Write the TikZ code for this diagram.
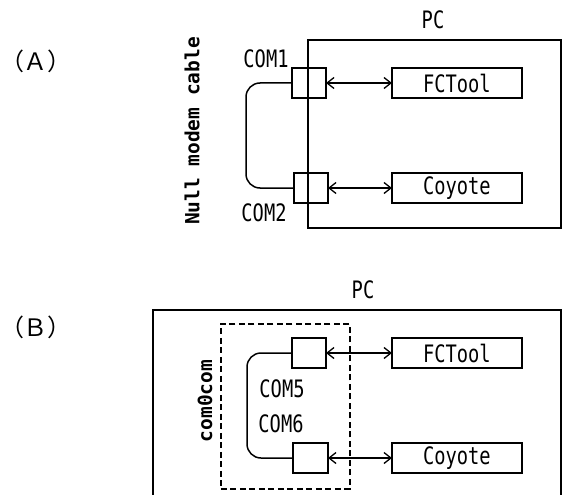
\documentclass[tikz,border=0pt]{standalone}
\usepackage{fontspec}
\usetikzlibrary{arrows.meta}
\newfontfamily\gfont{DejaVu Sans Mono}[FakeStretch=0.78]
\newfontfamily\lblfont{DejaVu Sans Mono}
\newfontfamily\cjk{Noto Sans CJK JP}
\begin{document}
\begin{tikzpicture}[x=1pt,y=-1pt,
  txt/.style={font=\gfont\fontsize{24}{26}\selectfont, inner sep=0pt},
  boldlbl/.style={font=\lblfont\bfseries\fontsize{19.5}{22}\selectfont, inner sep=0pt, rotate=90},
  tag/.style={font=\cjk\fontsize{24}{26}\selectfont, inner sep=0pt},
  box/.style={draw, line width=1.6pt, anchor=north west, inner sep=0pt, outer sep=0pt},
  port/.style={box, minimum width=34pt, minimum height=30pt},
  app/.style={box, minimum width=130pt, minimum height=30pt, txt, text width=120pt, align=left, inner xsep=0pt,
    execute at begin node=\hspace*{26pt}},
  cable/.style={line width=1.5pt, rounded corners=14pt},
  arr/.style={line width=1.3pt, {Straight Barb[length=7pt,width=11pt]}-{Straight Barb[length=7pt,width=11pt]}},
  frame/.style={line width=1.6pt}
]
\useasboundingbox (0,0) rectangle (565,495);

% ---------- (A) ----------
\node[tag] (tA) at (36,61) {（Ａ）};
\node[txt] (pcAlbl) at (433,20) {PC};
\node[box, minimum width=253pt, minimum height=188pt] (pcA) at (308,40) {};
\node[port] (com1) at (292,68) {};
\node[port] (com2) at (294,173) {};
\node[app] (fct) at (392,68) {FCTool};
\node[app] (coy) at (392,173) {Coyote};
\node[txt] (l1) at (266,59) {COM1};
\node[txt] (l2) at (264,213) {COM2};
\node[boldlbl] (nmc) at (192,131) {Null modem cable};
\coordinate (bendA) at (246,0);
\draw[cable] (com1.west) -- (com1.west -| bendA) |- (com2.west);
\draw[arr] (com1.east) -- (fct.west);
\draw[arr] (com2.east) -- (coy.west);

% ---------- (B) ----------
\node[tag] (tB) at (36,327) {（Ｂ）};
\node[txt] (pcBlbl) at (363,290) {PC};
\coordinate (pbl) at (153,495);
\coordinate (ptl) at (153,310);
\coordinate (ptr) at (561,310);
\coordinate (pbr) at (561,495);
\draw[frame] (pbl) -- (ptl) -- (ptr) -- (pbr);
\node[draw, dashed, dash pattern=on 6pt off 3.5pt, line width=1.5pt, anchor=north west,
      minimum width=129pt, minimum height=165pt, inner sep=0pt] (c0c) at (220,323) {};
\node[port] (com5) at (292,338) {};
\node[port, minimum width=35pt] (com6) at (293,443) {};
\node[app] (fct2) at (392,338) {FCTool};
\node[app] (coy2) at (392,443) {Coyote};
\node[txt] (l5) at (282,389) {COM5};
\node[txt] (l6) at (281,424) {COM6};
\node[boldlbl] (cc) at (205,401) {com0com};
\coordinate (bendB) at (247,0);
\draw[cable] (com5.west) -- (com5.west -| bendB) |- (com6.west);
\draw[arr] (com5.east) -- (fct2.west);
\draw[arr] (com6.east) -- (coy2.west);
\end{tikzpicture}
\end{document}
